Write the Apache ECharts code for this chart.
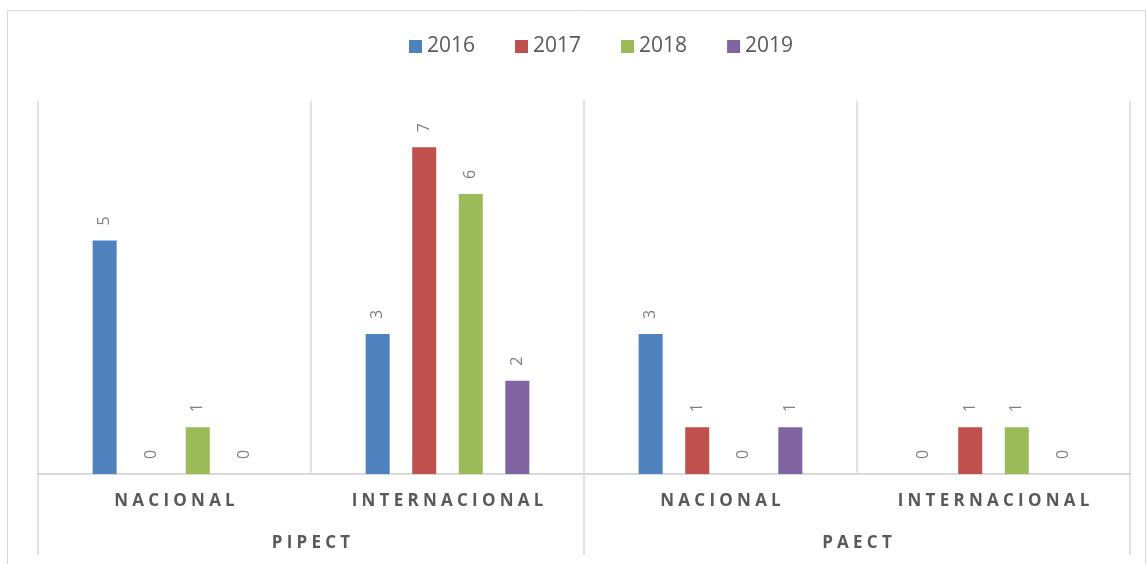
<!DOCTYPE html>
<html>
<head>
<meta charset="utf-8">
<script src="https://cdn.jsdelivr.net/npm/echarts@6/dist/echarts.min.js"></script>
<style>html,body{margin:0;padding:0;background:#fff;}#c{width:1147px;height:564px;}</style>
</head>
<body>
<div id="c"></div>
<script>
const subCategories = ['NACIONAL', 'INTERNACIONAL', 'NACIONAL', 'INTERNACIONAL'];
const groupCategories = ['PIPECT', 'PAECT'];
const seriesNames = ['2016', '2017', '2018', '2019'];
const values2016 = [5, 3, 3, 0];
const values2017 = [0, 7, 1, 1];
const values2018 = [1, 6, 0, 1];
const values2019 = [0, 2, 1, 0];
const colors = ['#4f81bd', '#c0504d', '#9bbb59', '#8064a2'];

const allValues = [values2016, values2017, values2018, values2019];
const spaced = s => s.split('').join('\u2005');
const gridColor = '#d9d9d9';
const textColor = '#595959';
const fontFam = '"Open Sans", "Liberation Sans", sans-serif';

const chart = echarts.init(document.getElementById('c'));
chart.setOption({
  animation: false,
  color: colors,
  graphic: [{
    type: 'rect', silent: true,
    shape: { x: 7.5, y: 10.5, width: 1138, height: 570 },
    style: { fill: 'none', stroke: gridColor, lineWidth: 1 }
  }],
  legend: {
    top: 31, left: 404,
    itemWidth: 13, itemHeight: 13, itemGap: 40,
    icon: 'rect',
    textStyle: { fontSize: 21, color: textColor, fontFamily: fontFam }
  },
  grid: { left: 38, right: 17, top: 100.5, bottom: 90 },
  xAxis: [{
    type: 'category',
    data: subCategories,
    position: 'bottom',
    axisLine: { show: true, lineStyle: { color: gridColor, width: 2 } },
    axisTick: { show: false },
    splitLine: { show: true, lineStyle: { color: gridColor, width: 1.5 } },
    axisLabel: {
      margin: 19, fontSize: 17, fontWeight: 'bold', color: textColor, fontFamily: fontFam,
      formatter: v => spaced(v)
    }
  }, {
    type: 'category',
    data: groupCategories,
    position: 'bottom',
    axisLine: { show: false },
    axisTick: { show: true, length: 81, lineStyle: { color: gridColor, width: 1.5 } },
    splitLine: { show: false },
    axisLabel: {
      margin: 61, fontSize: 17, fontWeight: 'bold', color: textColor, fontFamily: fontFam,
      formatter: v => spaced(v)
    }
  }],
  yAxis: {
    type: 'value', min: 0, max: 8, interval: 1,
    show: false,
    splitLine: { show: false }
  },
  series: seriesNames.map((name, i) => ({
    name: name,
    type: 'bar',
    xAxisIndex: 0,
    data: allValues[i],
    barWidth: 24,
    barGap: '94%',
    itemStyle: { color: colors[i] },
    label: {
      show: true, position: 'top', rotate: 90, distance: 15,
      align: 'left', verticalAlign: 'middle',
      fontSize: 16, color: '#7f7f7f', fontFamily: fontFam
    }
  }))
});
</script>
</body>
</html>
